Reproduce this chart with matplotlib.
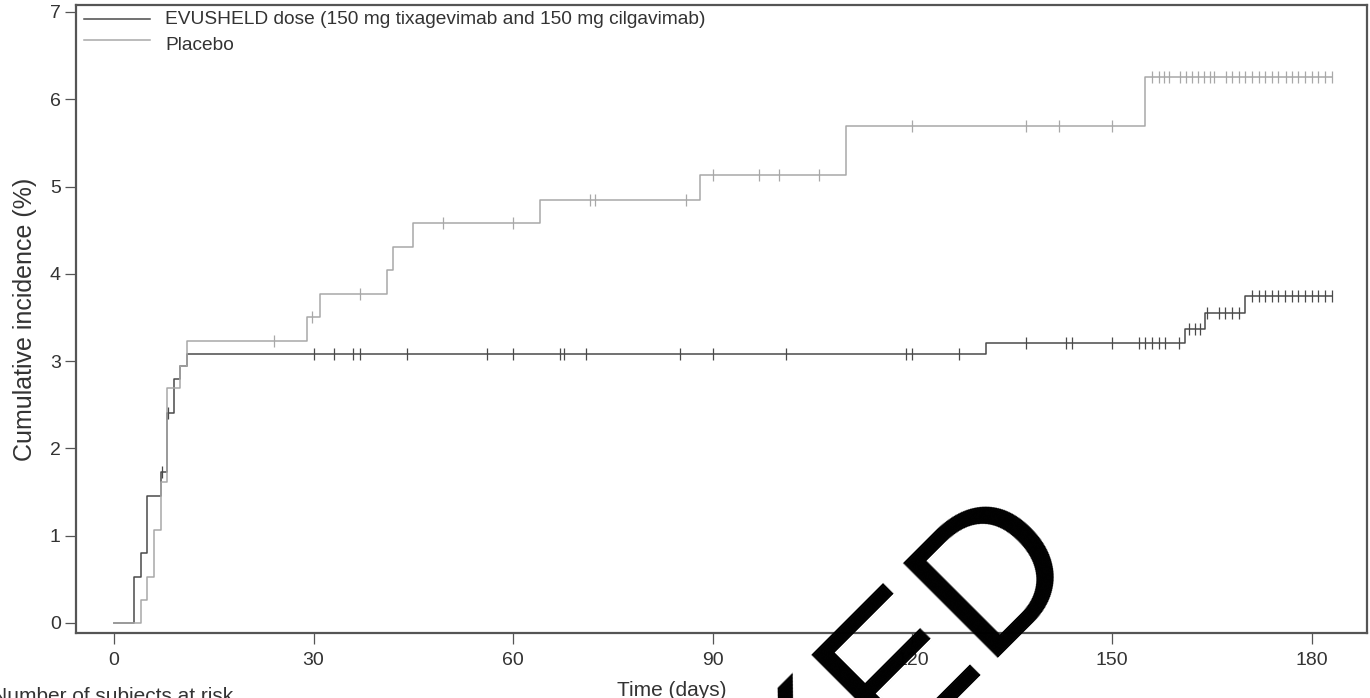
import numpy as np
import matplotlib
matplotlib.use("Agg")
import matplotlib.pyplot as plt
from matplotlib.lines import Line2D

plt.rcParams['font.family'] = ['Liberation Sans', 'DejaVu Sans']

# ---- data ----
evu_label = "EVUSHELD dose (150 mg tixagevimab and 150 mg cilgavimab)"
pbo_label = "Placebo"

evu_times = [0, 3, 4, 5, 7, 8, 9, 10, 11, 131, 161, 164, 170, 183]
evu_cuminc = [0, 0.53, 0.80, 1.46, 1.73, 2.40, 2.80, 2.94, 3.08, 3.21, 3.37, 3.55, 3.75, 3.75]
evu_censor = [7.2, 8.2, 30, 33, 36, 37, 44, 56, 60, 67, 67.7, 71, 85, 90, 101, 119, 120, 127,
              137, 143, 144, 150, 154, 155, 156, 157, 158, 160,
              161.6, 162.4, 163.2, 164.3, 166, 167, 168, 169,
              171, 172, 173, 174, 175, 176, 177, 178, 179, 180, 181, 182, 183]

pbo_times = [0, 4, 5, 6, 7, 8, 10, 11, 29, 31, 41, 42, 45, 64, 88, 110, 155, 183]
pbo_cuminc = [0, 0.26, 0.53, 1.07, 1.61, 2.69, 2.94, 3.23, 3.50, 3.77, 4.04, 4.31, 4.58,
              4.85, 5.13, 5.69, 6.25, 6.25]
pbo_censor = [24, 29.8, 37, 49.5, 60, 71.5, 72.3, 86, 90, 97, 100, 106, 120, 137, 142, 150,
              156, 157, 157.8, 158.6, 160.2, 161.1, 162, 162.9, 163.8, 164.7, 165.3, 167.1,
              168, 169, 170, 171, 172, 173, 174, 175, 176.2, 177.1, 178, 179, 180, 181, 182, 183]

x_ticks = [0, 30, 60, 90, 120, 150, 180]
y_ticks = [0, 1, 2, 3, 4, 5, 6, 7]

evu_color = "#4a4a4a"
pbo_color = "#a8a8a8"
txt_color = "#333333"
spine_color = "#555555"


def step_value(times, values, t):
    idx = np.searchsorted(np.asarray(times), t, side='right') - 1
    return np.asarray(values)[idx]


W, H = 1370, 698
fig = plt.figure(figsize=(W / 100, H / 100), dpi=100)
ax = fig.add_axes([76 / W, 65 / H, (1367 - 76) / W, (633 - 5) / H])

ax.step(evu_times, evu_cuminc, where='post', color=evu_color, lw=1.1)
ax.step(pbo_times, pbo_cuminc, where='post', color=pbo_color, lw=1.1)

ax.plot(evu_censor, step_value(evu_times, evu_cuminc, evu_censor), ls='none', marker='|',
        ms=8, mew=0.9, color=evu_color)
ax.plot(pbo_censor, step_value(pbo_times, pbo_cuminc, pbo_censor), ls='none', marker='|',
        ms=8, mew=0.9, color=pbo_color)

ax.set_xlim(-5.7, 188.3)
ax.set_ylim(-0.115, 7.08)
ax.set_xticks(x_ticks)
ax.set_yticks(y_ticks)
ax.tick_params(direction='out', length=8, width=0.9, colors=spine_color,
               labelcolor=txt_color, labelsize=14)
ax.tick_params(axis='y', pad=3)
ax.tick_params(axis='x', pad=6)
for s in ax.spines.values():
    s.set_color(spine_color)
    s.set_linewidth(1.6)

ax.set_ylabel("Cumulative incidence (%)", fontsize=18, color=txt_color, labelpad=9)
fig.text(672 / W, 2 / H, "Time (days)", fontsize=15, color=txt_color,
         ha='center', va='baseline')

# legend (drawn by hand to follow the reference layout)
def px_to_fig(x, y):
    return x / W, (H - y) / H

for (y_line, y_text, col, lab) in [(19, 20, evu_color, evu_label),
                                   (40, 46, pbo_color, pbo_label)]:
    x1, yl = px_to_fig(84, y_line)
    x2, _ = px_to_fig(150, y_line)
    fig.add_artist(Line2D([x1, x2], [yl, yl], color=col, lw=1.1))
    xt, yt = px_to_fig(165, y_text)
    fig.text(xt, yt, lab, fontsize=13.8, color=txt_color, ha='left', va='center')

fig.text(-8 / W, -4 / H, "Number of subjects at risk", fontsize=15,
         color=txt_color, ha='left', va='baseline')

# large black watermark letters (partially visible)
fig.text(1082 / W, (H - 558) / H, "KED", fontsize=140, color='black',
         rotation=45, rotation_mode='anchor', ha='right', va='baseline',
         family='Liberation Sans', zorder=10)

fig.savefig("out.png", dpi=100)
